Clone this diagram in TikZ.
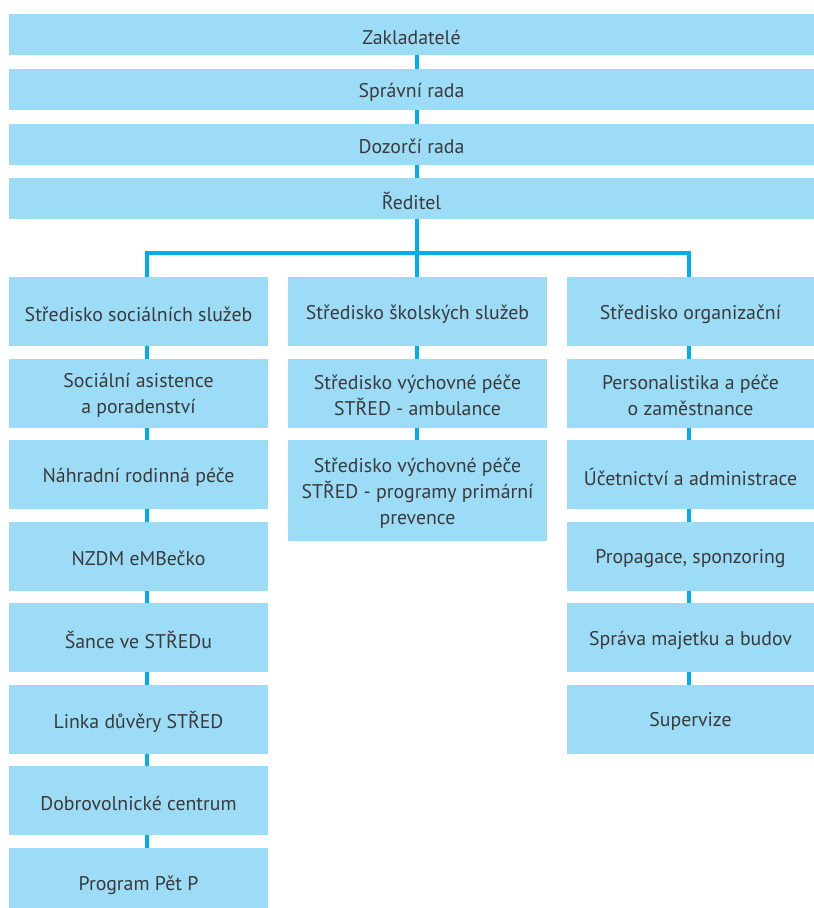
\documentclass[tikz,border=0pt]{standalone}
\usepackage{fontspec}
\setmainfont{PT Sans}
\usetikzlibrary{backgrounds}
\definecolor{boxfill}{HTML}{9DDCF7}
\definecolor{linecol}{HTML}{00AEEF}
\definecolor{txt}{HTML}{3A3A3A}
\begin{document}
\begin{tikzpicture}[x=1pt,y=-1pt,
  boxtext/.style={inner sep=0pt, align=center, text=txt,
    font=\fontsize{19.8}{26}\selectfont, yshift=-2.5pt},
  box/.style={fill=boxfill, draw=none, inner sep=0pt,
    label={[boxtext]center:{#1}}},
  topbox/.style={box={#1}, minimum width=805pt, minimum height=41pt},
  lbox/.style={box={#1}, minimum width=259pt, minimum height=69pt},
  rbox/.style={box={#1}, minimum width=247pt, minimum height=69pt},
  conn/.style={draw=linecol, line width=3.6pt}]
\useasboundingbox (0,0) rectangle (814,908);
\clip (0,0) rectangle (814,908);
% nodes
\node[topbox={Zakladatelé}] (zak) at (411.5,34.5) {};
\node[topbox={Správní rada}] (spr) at (411.5,89.5) {};
\node[topbox={Dozorčí rada}] (doz) at (411.5,144) {};
\node[topbox={Ředitel}] (red) at (411.5,198.5) {};
% left column
\node[lbox={Středisko sociálních služeb}] (L1) at (138.5,311.5) {};
\node[lbox={Sociální asistence\\a poradenství}] (L2) at (138.5,393) {};
\node[lbox={Náhradní rodinná péče}] (L3) at (138.5,474.5) {};
\node[lbox={NZDM eMBečko}] (L4) at (138.5,556) {};
\node[lbox={Šance ve STŘEDu}] (L5) at (138.5,637.5) {};
\node[lbox={Linka důvěry STŘED}] (L6) at (138.5,719) {};
\node[lbox={Dobrovolnické centrum}] (L7) at (138.5,800.5) {};
\node[lbox={Program Pět P}] (L8) at (138.5,882.5) {};
% middle column
\node[lbox={Středisko školských služeb}] (M1) at (417.5,311.5) {};
\node[lbox={Středisko výchovné péče\\STŘED - ambulance}] (M2) at (417.5,393) {};
\node[lbox={Středisko výchovné péče\\STŘED - programy primární\\prevence}, minimum height=101pt] (M3) at (417.5,490.5) {};
% right column
\node[rbox={Středisko organizační}] (R1) at (690.5,311.5) {};
\node[rbox={Personalistika a péče\\o zaměstnance}] (R2) at (690.5,393) {};
\node[rbox={Účetnictví a administrace}] (R3) at (690.5,474.5) {};
\node[rbox={{Propagace, sponzoring}}] (R4) at (690.5,556) {};
\node[rbox={Správa majetku a budov}] (R5) at (690.5,637.5) {};
\node[rbox={Supervize}] (R6) at (690.5,719) {};
% connectors (behind boxes)
\coordinate (lx) at (147,253);
\coordinate (rx) at (689,253);
\coordinate (cx) at (417,253);
\begin{scope}[on background layer]
\draw[conn] (cx |- zak.center) -- (cx |- M3.center);
\draw[conn] (lx |- L8.center) -- (lx) -- (rx) -- (rx |- R6.center);
\end{scope}
\end{tikzpicture}
\end{document}
